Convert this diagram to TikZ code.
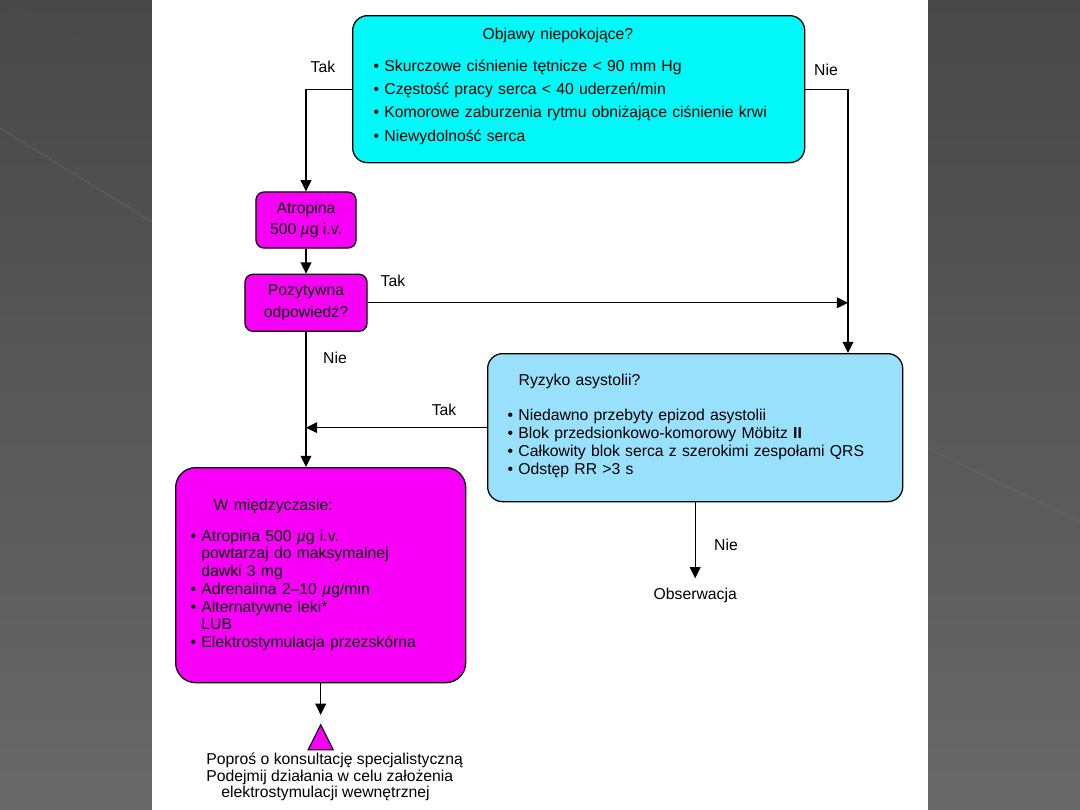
\documentclass[tikz,border=0pt]{standalone}
\usepackage{fontspec}
\setmainfont{Liberation Sans}
\usepackage{tikz}
\usetikzlibrary{positioning}
\usetikzlibrary{shapes.geometric}
\usetikzlibrary{arrows.meta}

\definecolor{bgtop}{RGB}{72,72,72}
\definecolor{bgbot}{RGB}{104,104,104}
\definecolor{boxcyan}{RGB}{0,248,248}
\definecolor{boxmag}{RGB}{248,0,248}
\definecolor{boxblue}{RGB}{152,224,252}

\newcommand{\bul}{\textbullet\ }
\newcommand{\ind}{\phantom{\textbullet}\ }
\newcommand{\mug}{{\itshape µ}g}

\begin{document}
\begin{tikzpicture}[x=0.025cm, y=-0.025cm,
    box/.style={draw, line width=0.9pt, font=\fontsize{11.2}{13}\selectfont},
    lbl/.style={inner sep=2pt, font=\fontsize{11.2}{13}\selectfont},
    arr/.style={draw, line width=0.8pt, -{Triangle[length=0.28cm,width=0.27cm]}}]
    \useasboundingbox (0,0) rectangle (1080,810);
    \shade[top color=bgtop, bottom color=bgbot] (0,0) rectangle (152,810);
    \shade[top color=bgtop, bottom color=bgbot] (928,0) rectangle (1080,810);
    \fill[white] (152,0) rectangle (928,810);
    \draw[gray!60!black, line width=0.5pt] (0,2) -- (152,73);
    \draw[black!60, line width=0.4pt] (0,128) -- (152,222);
    \draw[gray!70!black, line width=0.5pt] (928,446) -- (1080,375);
    \draw[black!60, line width=0.4pt] (928,448) -- (1080,522);

    \node[box, fill=boxcyan, rounded corners=0.375cm, anchor=north west,
          minimum width=11.3cm, minimum height=3.675cm,
          inner xsep=0.525cm, text width=10.25cm, align=left,
          font=\fontsize{11.2}{16.6}\selectfont] (symptoms) at (352,15)
        {\hspace*{2.725cm}Objawy niepokojące?\\[6pt]
         \bul Skurczowe ciśnienie tętnicze < 90 mm Hg\\
         \bul Częstość pracy serca < 40 uderzeń/min\\
         \bul Komorowe zaburzenia rytmu obniżające ciśnienie krwi\\
         \bul Niewydolność serca\\[-10pt]\mbox{}};
    \node[box, fill=boxmag, rounded corners=0.2cm, minimum width=2.5cm,
          minimum height=1.4cm, align=center, font=\fontsize{11.2}{14.4}\selectfont]
          (atropine) at (306,220) {Atropina\\500 \mug{} i.v.};
    \node[box, fill=boxmag, rounded corners=0.2cm, minimum width=3.05cm,
          minimum height=1.425cm, align=center, font=\fontsize{11.2}{15.6}\selectfont,
          below=0.625cm of atropine] (response) {Pozytywna\\odpowiedź?};
    \node[box, fill=boxblue, rounded corners=0.375cm, anchor=north west,
          minimum width=10.375cm, minimum height=3.7cm,
          inner xsep=0.5cm, text width=9.375cm, align=left,
          font=\fontsize{11.2}{12.8}\selectfont] (risk) at (487,353)
        {\hspace*{0.275cm}Ryzyko asystolii?\\[12pt]
         \bul Niedawno przebyty epizod asystolii\\
         \bul Blok przedsionkowo-komorowy Möbitz \textbf{II}\\
         \bul Całkowity blok serca z szerokimi zespołami QRS\\
         \bul Odstęp RR >3 s\\[-8.5pt]\mbox{}};
    \node[box, fill=boxmag, rounded corners=0.5cm, anchor=north west,
          minimum width=7.25cm, minimum height=5.375cm,
          inner xsep=0.375cm, text width=6.5cm, align=left,
          font=\fontsize{11.2}{12.6}\selectfont] (meantime) at (175,467)
        {\hspace*{0.575cm}W międzyczasie:\\[9pt]
         \bul Atropina 500 \mug{} i.v.\\
         \ind powtarzaj do maksymalnej\\
         \ind dawki 3 mg\\
         \bul Adrenalina 2--10 \mug/min\\
         \bul Alternatywne leki*\\
         \ind LUB\\
         \bul Elektrostymulacja przezskórna};
    \node[lbl, below=2.075cm of risk] (observe) {Obserwacja};
    \node[draw, fill=boxmag, line width=0.8pt, isosceles triangle, shape border rotate=90,
          isosceles triangle stretches, minimum width=0.625cm, minimum height=0.625cm,
          inner sep=0pt, below=1.0cm of meantime] (consult) {};
    \node[inner sep=0pt, align=left, font=\fontsize{11.2}{11.8}\selectfont,
          below=0.06cm of consult, xshift=0.35cm] (consulttxt)
        {Poproś o konsultację specjalistyczną\\
         Podejmij działania w celu założenia\\
         \hspace*{0.375cm}elektrostymulacji wewnętrznej};

    \node[lbl] (takA) at (323,67) {Tak};
    \node[lbl] (nieA) at (826,70) {Nie};
    \node[lbl] (takB) at (393,281) {Tak};
    \node[lbl] (nieB) at (335,358) {Nie};
    \node[lbl] (takC) at (444,410) {Tak};
    \node[lbl] (nieC) at (726,545) {Nie};

    \coordinate (rjoin) at (848,301);
    \draw[arr] (symptoms.west) -| (atropine.north);
    \draw[arr] (atropine.south) -- (response.north);
    \draw[arr] (symptoms.east) -| (rjoin |- risk.north);
    \draw[arr] (response.east) -- (response.east -| rjoin);
    \draw[arr] (response.south) -- (response.south |- meantime.north);
    \draw[arr] (risk.west) -- (risk.west -| response.south);
    \draw[arr, shorten >=5pt] (risk.south) -- (observe.north);
    \draw[arr, shorten >=6pt] (meantime.south) -- (consult.north);
\end{tikzpicture}
\end{document}
